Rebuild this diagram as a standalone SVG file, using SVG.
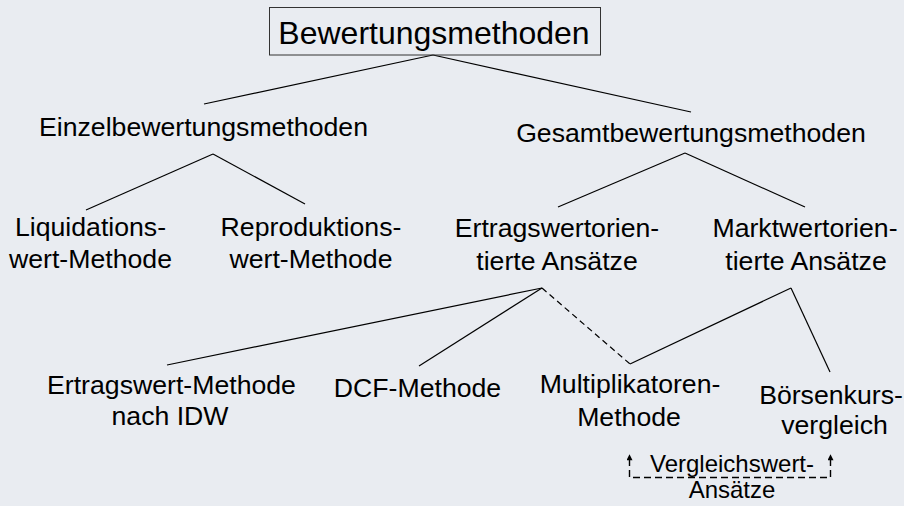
<svg xmlns="http://www.w3.org/2000/svg" width="904" height="506" viewBox="0 0 904 506">
<style>
text{font-family:"Liberation Sans",Arial,sans-serif;fill:#000;text-anchor:middle}
.t1{font-size:32px}
.t2{font-size:26.67px}
.t3{font-size:24px}
.c{stroke:#000;stroke-width:1.2;fill:none}
.d{stroke-dasharray:6 4}
</style>
<defs>
<marker id="ah" viewBox="0 0 10 10" refX="2" refY="5" markerWidth="7" markerHeight="6" markerUnits="userSpaceOnUse" orient="auto-start-reverse">
<path d="M0,0 L10,5 L0,10 Z" fill="#000"/>
</marker>
</defs>
<rect width="904" height="506" fill="#e9ecf1"/>
<g id="connectors">
<line class="c" x1="433" y1="55" x2="204" y2="104"/>
<line class="c" x1="433" y1="55" x2="691" y2="112"/>
<line class="c" x1="213" y1="154" x2="86" y2="210"/>
<line class="c" x1="213" y1="154" x2="305" y2="204"/>
<line class="c" x1="685" y1="153" x2="558" y2="207"/>
<line class="c" x1="685" y1="153" x2="805" y2="207"/>
<line class="c" x1="542" y1="288" x2="167" y2="365"/>
<line class="c" x1="542" y1="288" x2="419" y2="366"/>
<line class="c d" x1="542" y1="288" x2="630" y2="364"/>
<line class="c" x1="791" y1="288" x2="630" y2="364"/>
<line class="c" x1="791" y1="288" x2="830" y2="372"/>
<path d="M629.5,459 L629.5,477.5 L830.5,477.5 L830.5,459" fill="none" stroke="#000" stroke-width="1.4" stroke-dasharray="7 4" marker-start="url(#ah)" marker-end="url(#ah)"/>
</g>
<g id="n-bewertung">
<rect x="269.5" y="7.5" width="331" height="47.5" fill="none" stroke="#333" stroke-width="1"/>
<text class="t1" x="434" y="44">Bewertungsmethoden</text>
</g>
<g id="n-einzel"><text class="t2" x="203.5" y="136">Einzelbewertungsmethoden</text></g>
<g id="n-gesamt"><text class="t2" x="691" y="142">Gesamtbewertungsmethoden</text></g>
<g id="n-liquidation"><text class="t2" x="90.5" y="236">Liquidations-</text><text class="t2" x="90.5" y="268">wert-Methode</text></g>
<g id="n-reproduktion"><text class="t2" x="311" y="236">Reproduktions-</text><text class="t2" x="311" y="268">wert-Methode</text></g>
<g id="n-ertragsorient"><text class="t2" x="557" y="237">Ertragswertorien-</text><text class="t2" x="557" y="270">tierte Ansätze</text></g>
<g id="n-marktorient"><text class="t2" x="805" y="237">Marktwertorien-</text><text class="t2" x="806" y="270">tierte Ansätze</text></g>
<g id="n-ertragswert"><text class="t2" x="171.5" y="394">Ertragswert-Methode</text><text class="t2" x="170" y="425">nach IDW</text></g>
<g id="n-dcf"><text class="t2" x="417.5" y="397">DCF-Methode</text></g>
<g id="n-multi"><text class="t2" x="630" y="393">Multiplikatoren-</text><text class="t2" x="629" y="426">Methode</text></g>
<g id="n-boerse"><text class="t2" x="831" y="404">Börsenkurs-</text><text class="t2" x="834.5" y="434">vergleich</text></g>
<g id="n-vergleich"><text class="t3" x="732" y="472">Vergleichswert-</text><text class="t3" x="732" y="498">Ansätze</text></g>
</svg>
